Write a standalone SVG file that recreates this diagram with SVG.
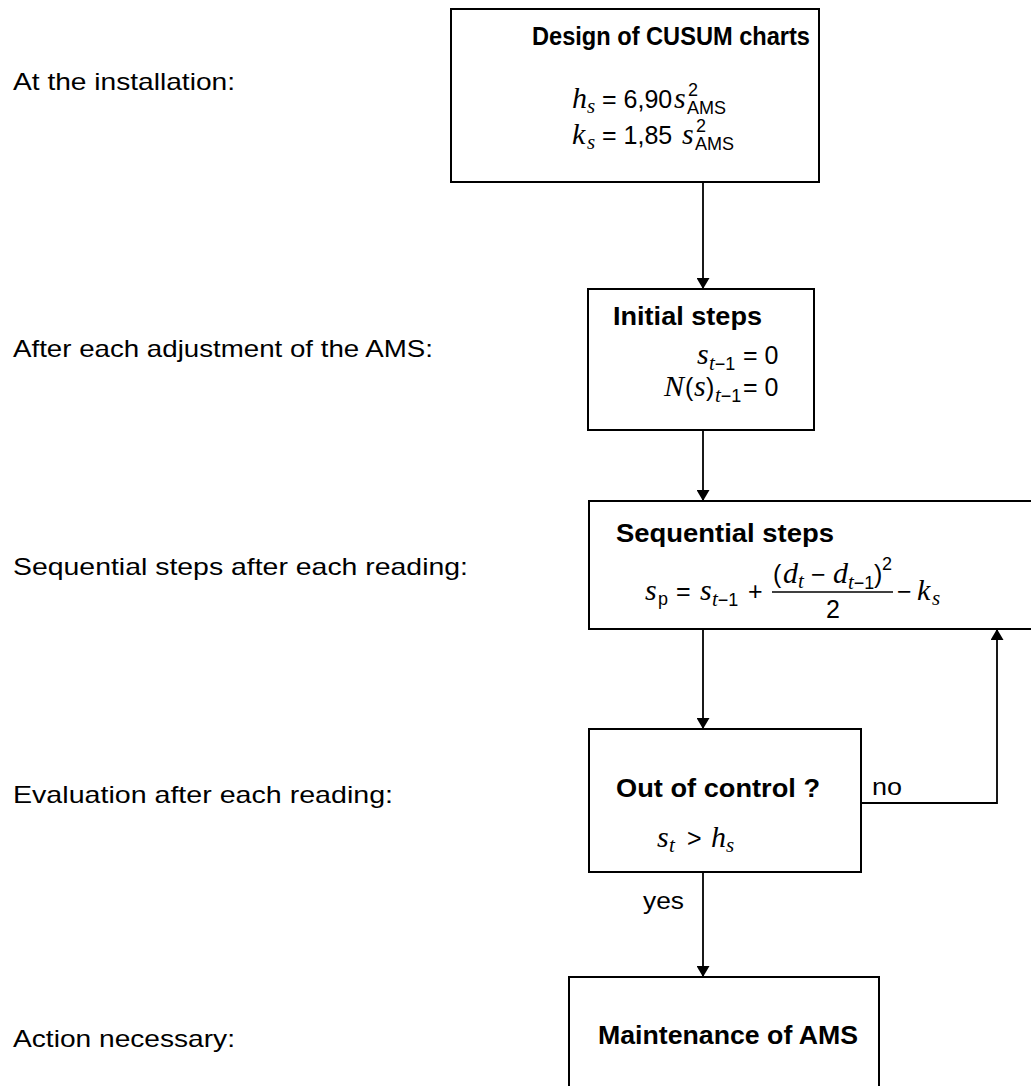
<svg xmlns="http://www.w3.org/2000/svg" width="1031" height="1086" viewBox="0 0 1031 1086">
  <defs>
    <marker id="arrow" viewBox="0 0 11 13" refX="11" refY="6.5" markerWidth="11" markerHeight="13" markerUnits="userSpaceOnUse" orient="auto">
      <path d="M0,0 L11,6.5 L0,13 Z" fill="#000"/>
    </marker>
    <style>
      .box { fill: #fff; stroke: #000; stroke-width: 2; }
      .link { fill: none; stroke: #000; stroke-width: 1.8; }
      .lbl { font-family: "Liberation Sans", Arial, sans-serif; font-size: 24px; fill: #000; }
      .ttl { font-family: "Liberation Sans", Arial, sans-serif; font-size: 25px; font-weight: bold; fill: #000; }
      .m { font-family: "Liberation Serif", "Times New Roman", serif; font-style: italic; font-size: 30px; fill: #000; }
      .mn { font-family: "Liberation Sans", Arial, sans-serif; font-size: 25px; fill: #000; }
      .sub { font-family: "Liberation Sans", Arial, sans-serif; font-size: 18px; fill: #000; }
      .subi { font-family: "Liberation Serif", "Times New Roman", serif; font-style: italic; font-size: 21px; fill: #000; }
    </style>
  </defs>

  <!-- stage labels on the left -->
  <g id="stage-labels">
    <text class="lbl" x="13" y="90" textLength="222" lengthAdjust="spacingAndGlyphs">At the installation:</text>
    <text class="lbl" x="13" y="357" textLength="420" lengthAdjust="spacingAndGlyphs">After each adjustment of the AMS:</text>
    <text class="lbl" x="13" y="575" textLength="455" lengthAdjust="spacingAndGlyphs">Sequential steps after each reading:</text>
    <text class="lbl" x="13" y="803" textLength="380" lengthAdjust="spacingAndGlyphs">Evaluation after each reading:</text>
    <text class="lbl" x="13" y="1047" textLength="222" lengthAdjust="spacingAndGlyphs">Action necessary:</text>
  </g>

  <!-- connectors -->
  <g id="connectors">
    <line class="link" x1="703" y1="182" x2="703" y2="289" marker-end="url(#arrow)"/>
    <line class="link" x1="703" y1="430" x2="703" y2="501" marker-end="url(#arrow)"/>
    <line class="link" x1="703" y1="629" x2="703" y2="729" marker-end="url(#arrow)"/>
    <line class="link" x1="703" y1="872" x2="703" y2="977" marker-end="url(#arrow)"/>
    <polyline class="link" points="861,803 997,803 997,629" marker-end="url(#arrow)"/>
    <text class="lbl" x="872" y="795" textLength="30" lengthAdjust="spacingAndGlyphs">no</text>
    <text class="lbl" x="643" y="909" textLength="41" lengthAdjust="spacingAndGlyphs">yes</text>
  </g>

  <!-- design of the CUSUM charts -->
  <g id="design">
    <rect class="box" x="451" y="9" width="368" height="173"/>
    <text class="ttl" x="532" y="45" textLength="278" lengthAdjust="spacingAndGlyphs">Design of CUSUM charts</text>
    <text class="m" x="572" y="108">h</text>
    <text class="subi" x="587" y="113">s</text>
    <text class="mn" x="602" y="108">= 6,90</text>
    <text class="m" x="674" y="108">s</text>
    <text class="sub" x="688" y="96">2</text>
    <text class="sub" x="687" y="114">AMS</text>
    <text class="m" x="572" y="144">k</text>
    <text class="subi" x="587" y="149">s</text>
    <text class="mn" x="602" y="144">= 1,85</text>
    <text class="m" x="682" y="144">s</text>
    <text class="sub" x="696" y="132">2</text>
    <text class="sub" x="695" y="150">AMS</text>
  </g>

  <!-- initial steps -->
  <g id="initial">
    <rect class="box" x="588" y="289" width="226" height="141"/>
    <text class="ttl" x="613" y="325" textLength="149" lengthAdjust="spacingAndGlyphs">Initial steps</text>
    <text class="m" x="697" y="364">s</text>
    <text x="709" y="370"><tspan class="subi">t</tspan><tspan class="sub">−1</tspan></text>
    <text class="mn" x="743" y="364">= 0</text>
    <text class="m" x="664" y="396">N</text>
    <text class="mn" x="685" y="396">(</text>
    <text class="m" x="694" y="396">s</text>
    <text class="mn" x="706" y="396">)</text>
    <text x="715" y="402"><tspan class="subi">t</tspan><tspan class="sub">−1</tspan></text>
    <text class="mn" x="743" y="396">= 0</text>
  </g>

  <!-- sequential steps -->
  <g id="sequential">
    <rect class="box" x="589" y="501" width="460" height="128"/>
    <text class="ttl" x="616" y="542" textLength="218" lengthAdjust="spacingAndGlyphs">Sequential steps</text>
    <text class="m" x="645" y="600">s</text>
    <text class="sub" x="658" y="605">p</text>
    <text class="mn" x="676" y="600">=</text>
    <text class="m" x="700" y="600">s</text>
    <text x="712" y="606"><tspan class="subi">t</tspan><tspan class="sub">−1</tspan></text>
    <text class="mn" x="748" y="600">+</text>
    <text class="mn" x="773" y="583">(</text>
    <text class="m" x="783" y="583">d</text>
    <text class="subi" x="798" y="588">t</text>
    <text class="mn" x="811" y="583">−</text>
    <text class="m" x="833" y="583">d</text>
    <text x="848" y="589"><tspan class="subi">t</tspan><tspan class="sub">−1</tspan></text>
    <text class="mn" x="874" y="583">)</text>
    <text class="sub" x="882" y="570">2</text>
    <line x1="772" y1="592" x2="893" y2="592" stroke="#000" stroke-width="1.6"/>
    <text class="mn" x="826" y="618">2</text>
    <text class="mn" x="897" y="600">−</text>
    <text class="m" x="917" y="600">k</text>
    <text class="subi" x="932" y="605">s</text>
  </g>

  <!-- out of control test -->
  <g id="evaluation">
    <rect class="box" x="589" y="729" width="272" height="143"/>
    <text class="ttl" x="616" y="797" textLength="204" lengthAdjust="spacingAndGlyphs">Out of control ?</text>
    <text class="m" x="657" y="847">s</text>
    <text class="subi" x="669" y="852">t</text>
    <text class="mn" x="687" y="847">&gt;</text>
    <text class="m" x="711" y="847">h</text>
    <text class="subi" x="726" y="852">s</text>
  </g>

  <!-- maintenance -->
  <g id="maintenance">
    <rect class="box" x="569" y="977" width="310" height="130"/>
    <text class="ttl" x="598" y="1044" textLength="260" lengthAdjust="spacingAndGlyphs">Maintenance of AMS</text>
  </g>
</svg>
